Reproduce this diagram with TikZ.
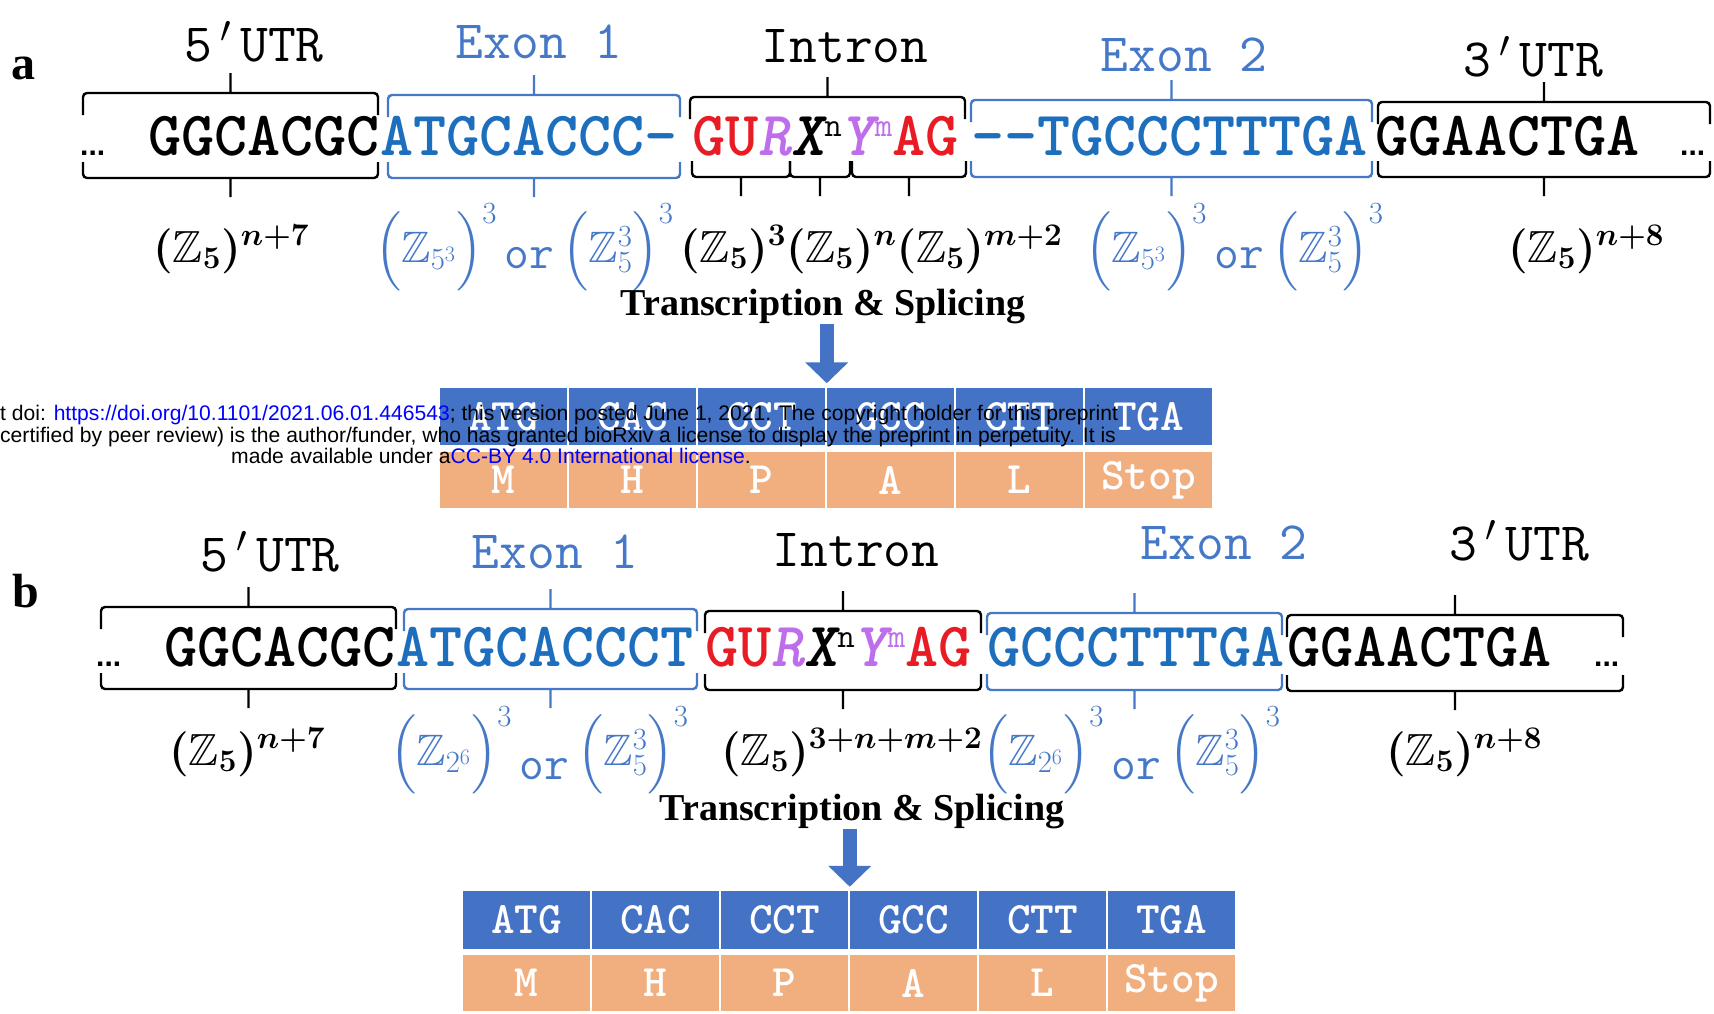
\RequirePackage{fix-cm}
\documentclass[tikz,border=0pt]{standalone}
\usepackage{amsmath,amssymb}
\DeclareFontFamily{U}{msb}{}
\DeclareFontShape{U}{msb}{m}{n}{<->msbm10}{}
\usepackage[no-math]{fontspec}
\setmainfont{Liberation Serif}
\newfontfamily\wmfont{Liberation Sans}
\usetikzlibrary{arrows.meta,positioning}

\definecolor{seqblue}{RGB}{30,110,190}
\definecolor{lblblue}{RGB}{70,120,200}
\definecolor{intred}{RGB}{232,28,36}
\definecolor{intpurple}{RGB}{190,110,235}
\definecolor{cellblue}{RGB}{68,114,196}
\definecolor{cellorange}{RGB}{241,175,128}
\definecolor{linkblue}{RGB}{0,0,255}

\tikzstyle{seq}=[inner sep=0pt, outer sep=0pt, anchor=base west, font=\fontsize{63}{63}\selectfont\ttfamily\bfseries]
\tikzstyle{dots}=[inner sep=0pt, anchor=base west, font=\wmfont\fontsize{30}{30}\selectfont\bfseries]
\tikzstyle{region}=[inner sep=0pt, font=\fontsize{54}{54}\selectfont\ttfamily]
\tikzstyle{brace}=[line width=2.4pt, rounded corners=4pt]
\tikzstyle{sizelabel}=[inner sep=0pt, anchor=base west, font=\fontsize{45}{45}\selectfont\boldmath]
\tikzstyle{bluelabel}=[inner sep=0pt, anchor=base west, text=lblblue, font=\fontsize{44}{44}\selectfont]
\tikzstyle{splice}=[inner sep=0pt, anchor=base, font=\fontsize{38}{38}\selectfont\bfseries]
\tikzstyle{codon}=[draw=white, line width=1.5pt, fill=cellblue, text=white, minimum width=129pt, minimum height=59pt, inner sep=0pt, font=\fontsize{45}{45}\selectfont\ttfamily\bfseries]
\tikzstyle{amino}=[codon, fill=cellorange, minimum height=58pt]
\tikzstyle{bigarrow}=[-{Triangle[width=42pt,length=21pt]}, line width=14pt, cellblue]
\tikzstyle{panel}=[inner sep=0pt, font=\fontsize{48}{48}\selectfont\bfseries]
\tikzstyle{watermark}=[inner sep=0pt, anchor=base west, font=\wmfont\fontsize{21.1}{22}\selectfont]

\def\zfive{(\mathbb{Z}_5)}
\def\pr{\makebox[0.525em]{$'$}}
\def\supfont{\fontsize{34}{34}\selectfont\mdseries\upshape}
\def\intron{\textcolor{intred}{GU}\textcolor{intpurple}{\itshape R}{\itshape X}\raisebox{19pt}{\supfont n}\textcolor{intpurple}{{\itshape Y}\raisebox{19pt}{\supfont m}}\textcolor{intred}{AG}}
\def\orword#1{\raisebox{#1}{\fontsize{48}{48}\selectfont\ttfamily\,or\,}}

\begin{document}
\begin{tikzpicture}[x=1pt, y=-1pt]

  \useasboundingbox (0,0) rectangle (1714,1013);
  \fill[white] (0,0) rectangle (1714,1013);

  \node[panel] (pa) at (24,68) {a};
  \node[panel] (pb) at (26,591) {b};

  % region names
  \foreach \x/\y/\name/\col/\txt in {254/42/aLfive/black/5\pr UTR, 539/42/aLexone/lblblue/Exon 1, 845/46/aLintron/black/Intron, 1184/55/aLextwo/lblblue/Exon 2, 1533/57/aLthree/black/3\pr UTR,
      270/552/bLfive/black/5\pr UTR, 555/552/bLexone/lblblue/Exon 1, 856/550/bLintron/black/Intron, 1224/543/bLextwo/lblblue/Exon 2, 1519/541/bLthree/black/3\pr UTR}
          \node[region, text=\col] (\name) at (\x,\y) {\txt};

  % upper braces
  \foreach \xa/\xb/\yt/\col in {83/378/93/black, 388/680/95/lblblue, 690/965/97/black, 971/1372/100/lblblue, 1378/1710/102/black,
      101/396/607/black, 404/697/609/lblblue, 705/981/611/black, 987/1282/613/lblblue, 1287/1623/615/black}
          \draw[brace, \col] (\xa,\yt+22) -- (\xa,\yt) -- (\xb,\yt) -- (\xb,\yt+22) ({(\xa+\xb)/2},\yt) -- ({(\xa+\xb)/2},\yt-20);

  % lower braces
  \foreach \xa/\xb/\yb/\col in {83/378/178/black, 388/680/178/lblblue, 692/790/177/black, 790/850/177/black, 852/966/177/black, 971/1372/177/lblblue, 1378/1710/177/black,
      101/396/689/black, 404/697/689/lblblue, 705/981/690/black, 987/1282/690/lblblue, 1287/1623/691/black}
          \draw[brace, \col] (\xa,\yb-16) -- (\xa,\yb) -- (\xb,\yb) -- (\xb,\yb-16) ({(\xa+\xb)/2},\yb) -- ({(\xa+\xb)/2},\yb+19);

  % sequences
  \foreach \x/\y/\name/\col/\txt in {148/155/aUTRfive/black/GGCACGC, 380/155/aExonone/seqblue/ATGCACCC-, 971/155/aExontwo/seqblue/-{}-TGCCCTTTGA, 1375/155/aUTRthree/black/GGAACTGA,
      164/666/bUTRfive/black/GGCACGC, 396/666/bExonone/seqblue/ATGCACCCT, 987/666/bExontwo/seqblue/GCCCTTTGA, 1287/666/bUTRthree/black/GGAACTGA}
          \node[seq, text=\col] (\name) at (\x,\y) {\txt};
  \node[seq] (aIntron) at (692,155) {\intron};
  \node[seq] (bIntron) at (705,666) {\intron};

  \foreach \x/\y/\name in {80/155/aDotsL, 1680/155/aDotsR, 96/666/bDotsL, 1594/666/bDotsR}
          \node[dots] (\name) at (\x,\y) {...};

  % sizes of the regions
  \node[sizelabel] (aZfive) at (153,262) {$\zfive^{n+7}$};
  \node[bluelabel] (aZexone) at (375,262) {$\Big(\mathbb{Z}_{5^3}\Big)^3$\orword{-6pt}$\Big(\mathbb{Z}^3_5\Big)^3$};
  \node[sizelabel] (aZintron) at (680,262) {$\zfive^3\zfive^n\zfive^{m+2}$};
  \node[bluelabel] (aZextwo) at (1085,262) {$\Big(\mathbb{Z}_{5^3}\Big)^3$\orword{-6pt}$\Big(\mathbb{Z}^3_5\Big)^3$};
  \node[sizelabel] (aZthree) at (1508,262) {$\zfive^{n+8}$};

  \node[sizelabel] (bZfive) at (169,765) {$\zfive^{n+7}$};
  \node[bluelabel] (bZexone) at (390,765) {$\Big(\mathbb{Z}_{2^6}\Big)^3$\orword{-14pt}$\Big(\mathbb{Z}^3_5\Big)^3$};
  \node[sizelabel] (bZintron) at (721,765) {$\zfive^{3+n+m+2}$};
  \node[bluelabel] (bZextwo) at (982,765) {$\Big(\mathbb{Z}_{2^6}\Big)^3$\orword{-14pt}$\Big(\mathbb{Z}^3_5\Big)^3$};
  \node[sizelabel] (bZthree) at (1386,765) {$\zfive^{n+8}$};

  \node[splice] (aSplice) at (823,315) {Transcription \& Splicing};
  \node[splice] (bSplice) at (862,820) {Transcription \& Splicing};

  % codon tables
  \foreach \i/\cod/\aa in {1/ATG/M, 2/CAC/H, 3/CCT/P, 4/GCC/A, 5/CTT/L, 6/TGA/Stop}
  {
          \node[codon] (aC\i) at ({439+(\i-0.5)*129}, 416.5) {\cod};
          \node[amino] (aA\i) at ({439+(\i-0.5)*129}, 480) {\aa};
          \node[codon] (bC\i) at ({462+(\i-0.5)*129}, 920) {\cod};
          \node[amino] (bA\i) at ({462+(\i-0.5)*129}, 983) {\aa};
  }

  \draw[bigarrow] (aC3.north east |- aSplice.south) -- ([yshift=3pt]aC3.north east);
  \draw[bigarrow] (bC3.north east |- bSplice.south) -- ([yshift=3pt]bC3.north east);

  % preprint stamp over panel a
  \node[watermark] (wmOne) at (0,420) {t doi: \textcolor{linkblue}{https://doi.org/10.1101/2021.06.01.446543}; this version posted June 1, 2021. The copyright holder for this preprint};
  \node[watermark] (wmTwo) at (0,442) {certified by peer review) is the author/funder, who has granted bioRxiv a license to display the preprint in perpetuity. It is};
  \node[watermark, anchor=base] (wmThree) at (491,463) {made available under a\textcolor{linkblue}{CC-BY 4.0 International license}.};

\end{tikzpicture}
\end{document}
